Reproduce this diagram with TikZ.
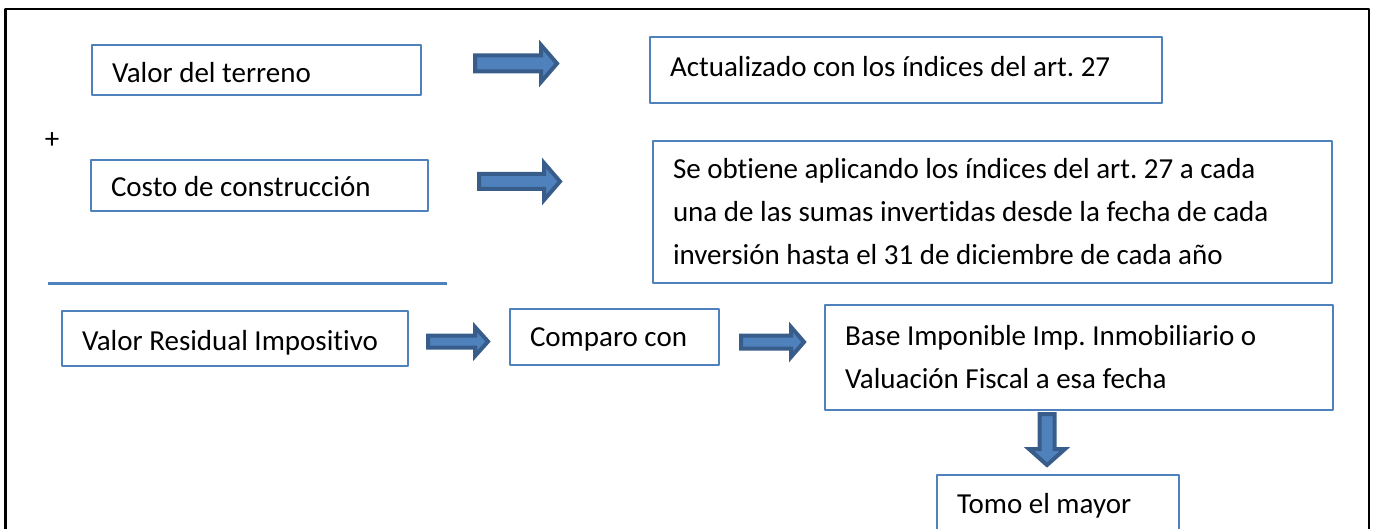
\documentclass[tikz,border=0pt]{standalone}
\usepackage{fontspec}
\setmainfont{Carlito}[Ligatures=NoCommon]
\definecolor{boxblue}{RGB}{79,129,189}
\definecolor{arrowdark}{RGB}{56,93,138}
\begin{document}
\frenchspacing
\begin{tikzpicture}[x=0.5pt,y=-0.5pt,line join=round,
	font=\fontsize{14.5}{21.5}\selectfont,
	box/.style={draw=boxblue,line width=0.6pt,inner xsep=10pt,inner ysep=0pt,align=flush left},
	oneline/.style={text height=#1,text depth=0pt},
	blockarrow/.style={fill=boxblue,draw=arrowdark,line width=2pt,line join=miter}]
	\useasboundingbox (0,0) rectangle (1375,529);
	% marco
	\draw[line width=1.2pt] (5.5,529) |- (1369,9) -- (1369,529);
	% cajas
	\node[box,oneline=13pt,text width=144.5pt,minimum height=25pt] (terreno) at (256.5,70) {Valor del terreno};
	\node[box,oneline=6.7pt,text width=236pt,minimum height=33pt] (indices) at (906,70) {Actualizado con los índices del art. 27};
	\node (mas) at (52,141) {+};
	\node[box,oneline=11.2pt,text width=148.5pt,minimum height=25.5pt] (costo) at (259.5,185.5) {Costo de construcción};
	\node[box,text width=319.5pt,minimum height=71pt] (obtiene) at (992.5,212) {Se obtiene aplicando los índices del art. 27 a cada\\una de las sumas invertidas desde la fecha de cada\\inversión hasta el 31 de diciembre de cada año};
	\path (48,283) coordinate (L1) (447,283) coordinate (L2);
	\draw[boxblue,line width=1.5pt] (L1) -- (L2);
	\node[box,oneline=11.5pt,text width=153pt,minimum height=27.5pt] (residual) at (235,338.5) {Valor Residual Impositivo};
	\node[box,oneline=9.7pt,text width=84.5pt,minimum height=28pt] (comparo) at (614.5,337) {Comparo con};
	\node[box,text width=234pt,minimum height=52.5pt] (base) at (1079,357.5) {Base Imponible Imp. Inmobiliario o\\Valuación Fiscal a esa fecha};
	\node[box,oneline=8pt,text width=101pt,minimum height=30pt] (mayor) at (1058,505) {Tomo el mayor};
	% flechas
	\foreach \xa/\xh/\xb/\yc/\sh/\hh in {475/541/557/63.5/8/18.5,479/544/560/181.5/7.5/18.5,428/475/488/341.5/6/14.5,741/791/804/342/6.5/15}
	\draw[blockarrow] (\xa,\yc-\sh) -- (\xh,\yc-\sh) -- (\xh,\yc-\hh) -- (\xb,\yc) -- (\xh,\yc+\hh) -- (\xh,\yc+\sh) -- (\xa,\yc+\sh) -- cycle;
	\draw[blockarrow] (1047-7.5,414) -- (1047-7.5,449) -- (1047-18,449) -- (1047,465) -- (1047+18,449) -- (1047+7.5,449) -- (1047+7.5,414) -- cycle;
\end{tikzpicture}
\end{document}
